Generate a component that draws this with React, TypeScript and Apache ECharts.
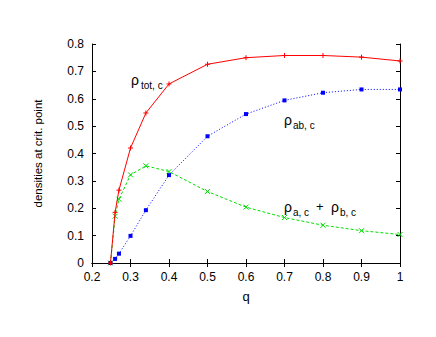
import React, { useEffect, useRef } from "react";
import * as echarts from "echarts";

const qValues = [0.248, 0.26, 0.27, 0.3, 0.34, 0.4, 0.5, 0.6, 0.7, 0.8, 0.9, 1.0];
const rhoTot = [0, 0.185, 0.266, 0.42, 0.548, 0.654, 0.726, 0.75, 0.758, 0.758, 0.752, 0.738];
const rhoAB = [0, 0.015, 0.034, 0.099, 0.193, 0.321, 0.463, 0.544, 0.594, 0.622, 0.634, 0.634];
const rhoAplusB = [0, 0.171, 0.233, 0.322, 0.355, 0.334, 0.261, 0.204, 0.166, 0.138, 0.118, 0.104];

const xTicks = [0.2, 0.3, 0.4, 0.5, 0.6, 0.7, 0.8, 0.9, 1];
const yTicks = [0, 0.1, 0.2, 0.3, 0.4, 0.5, 0.6, 0.7, 0.8];

const FONT = "Liberation Sans, Arial, Helvetica, sans-serif";

function pairs(ys: number[]) {
  return qValues.map((q, i) => [q, ys[i]]);
}

export default function App() {
  const ref = useRef<HTMLDivElement>(null);
  useEffect(() => {
    if (!ref.current) return;
    const chart = echarts.init(ref.current, undefined, { renderer: "svg" });
    const axisCommon = {
      axisLine: { show: true, lineStyle: { color: "#000", width: 1 } },
      axisTick: { show: true, inside: true, length: 4, lineStyle: { color: "#000" } },
      splitLine: { show: false },
    };
    const xFmt = (v: number) => (xTicks.includes(Math.round(v * 10) / 10) ? String(Math.round(v * 10) / 10) : "");
    const yFmt = (v: number) => (yTicks.includes(Math.round(v * 10) / 10) ? String(Math.round(v * 10) / 10) : "");
    const plus = "path://M0,5L10,5M5,0L5,10";
    const cross = "path://M0,0L10,10M10,0L0,10";
    chart.setOption({
      animation: false,
      backgroundColor: "#fff",
      grid: { left: 92, right: 36, top: 44, bottom: 74, containLabel: false },
      xAxis: [
        {
          type: "value",
          min: 0.2,
          max: 1,
          interval: 0.1,
          name: "q",
          nameLocation: "middle",
          nameGap: 27,
          nameTextStyle: { fontFamily: FONT, fontSize: 13, color: "#000" },
          axisLabel: { formatter: xFmt, fontFamily: FONT, fontSize: 12, color: "#000", margin: 8 },
          ...axisCommon,
        },
        {
          type: "value",
          position: "top",
          min: 0.2,
          max: 1,
          interval: 0.1,
          axisLabel: { show: false },
          ...axisCommon,
        },
      ],
      yAxis: [
        {
          type: "value",
          min: 0,
          max: 0.8,
          interval: 0.1,
          name: "densities at crit. point",
          nameLocation: "middle",
          nameGap: 48,
          nameTextStyle: { fontFamily: FONT, fontSize: 11.5, color: "#000" },
          axisLabel: { formatter: yFmt, fontFamily: FONT, fontSize: 12, color: "#000", margin: 8 },
          ...axisCommon,
        },
        {
          type: "value",
          position: "right",
          min: 0,
          max: 0.8,
          interval: 0.1,
          axisLabel: { show: false },
          ...axisCommon,
        },
      ],
      series: [
        {
          name: "tot",
          type: "line",
          data: pairs(rhoTot),
          symbol: plus,
          symbolSize: 5,
          lineStyle: { color: "#ff0000", width: 1 },
          itemStyle: { color: "#ff0000", borderColor: "#ff0000", borderWidth: 1 },
          z: 3,
        },
        {
          name: "ab",
          type: "line",
          data: pairs(rhoAB),
          symbol: "rect",
          symbolSize: 4,
          lineStyle: { color: "#0000ff", width: 1, type: [1, 2] },
          itemStyle: { color: "#0000ff" },
          z: 2,
        },
        {
          name: "a+b",
          type: "line",
          data: pairs(rhoAplusB),
          symbol: cross,
          symbolSize: 5,
          lineStyle: { color: "#00dd00", width: 1, type: [3, 2] },
          itemStyle: { color: "#00dd00", borderColor: "#00dd00", borderWidth: 1 },
          z: 1,
        },
      ],
      graphic: [
        { type: "text", left: 131, top: 73, style: { text: "ρ", font: `14px ${FONT}`, fill: "#000" } },
        { type: "text", left: 141, top: 80, style: { text: "tot, c", font: `10px ${FONT}`, fill: "#000" } },
        { type: "text", left: 284, top: 113, style: { text: "ρ", font: `14px ${FONT}`, fill: "#000" } },
        { type: "text", left: 293, top: 120, style: { text: "ab, c", font: `10px ${FONT}`, fill: "#000" } },
        { type: "text", left: 284, top: 200, style: { text: "ρ", font: `14px ${FONT}`, fill: "#000" } },
        { type: "text", left: 293, top: 207, style: { text: "a, c", font: `10px ${FONT}`, fill: "#000" } },
        { type: "text", left: 316, top: 200, style: { text: "+", font: `13px ${FONT}`, fill: "#000" } },
        { type: "text", left: 331, top: 200, style: { text: "ρ", font: `14px ${FONT}`, fill: "#000" } },
        { type: "text", left: 340, top: 207, style: { text: "b, c", font: `10px ${FONT}`, fill: "#000" } },
      ],
    });
    return () => chart.dispose();
  }, []);
  return <div ref={ref} style={{ width: 436, height: 337, margin: -8 }} />;
}
